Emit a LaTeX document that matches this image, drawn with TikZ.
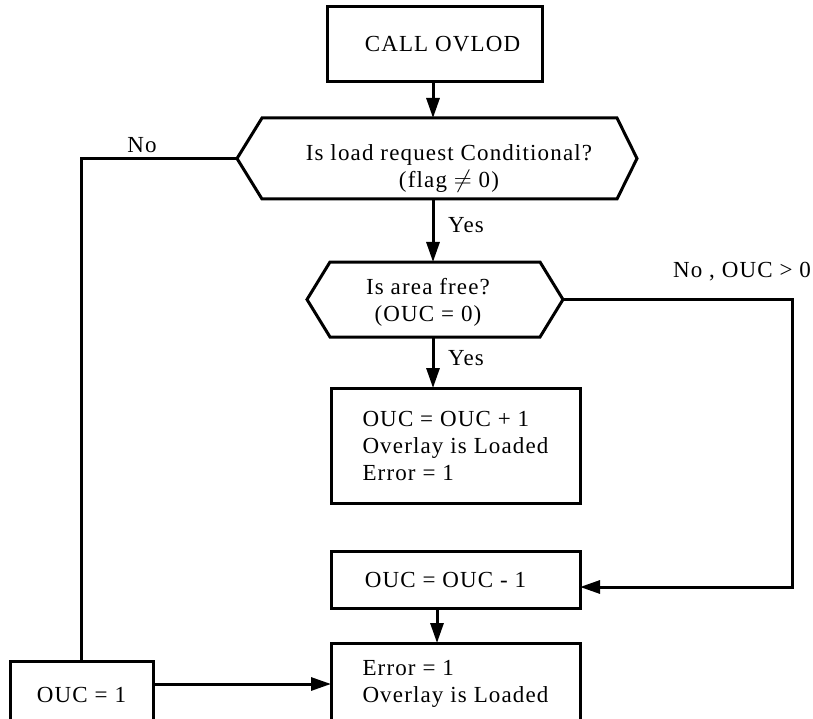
\documentclass[tikz,border=0pt]{standalone}
\usepackage{fontspec}
\setmainfont[LetterSpace=5]{Liberation Serif}
\usetikzlibrary{arrows.meta}
\begin{document}
\begin{tikzpicture}[x=1pt,y=-1pt,
  font=\fontsize{23}{27}\selectfont,
  line/.style={line width=3pt},
  flow/.style={line, -{Triangle[length=20pt,width=13pt]}},
  box/.style={draw, line width=3pt, inner sep=0pt, outer sep=0pt, align=left},
  body/.style={draw=none, inner sep=0pt, outer sep=0pt},
  txt/.style={inner sep=0pt, align=center}
]
\useasboundingbox (0,0) rectangle (813,719);

% process boxes
\node[box, minimum width=215pt, minimum height=75pt] (call) at (434.5,44.5) {\hspace*{16pt}CALL OVLOD};
\node[box, minimum width=249pt, minimum height=115pt] (inc) at (455.5,445.5)
  {OUC = OUC + 1\\Overlay is Loaded\\Error = 1};
\node[box, minimum width=249pt, minimum height=57pt] (dec) at (455.5,580) {OUC = OUC - 1\hspace*{20pt}};
\node[box, minimum width=249pt, minimum height=82pt] (err) at (455.5,684)
  {Error = 1\\Overlay is Loaded};
\node[box, minimum width=143pt, minimum height=68pt] (one) at (81.5,695) {OUC = 1};

% decision hexagons: body nodes plus outline
\node[body, minimum width=355pt, minimum height=81pt] (q1) at (439.5,158.5) {};
\draw[line, line join=miter] (q1.north west) -- (q1.north east) -- ([xshift=20pt]q1.east)
  -- (q1.south east) -- (q1.south west) -- ([xshift=-25pt]q1.west) -- cycle;
\coordinate (q1w) at ([xshift=-25pt]q1.west);
\node[txt] (q1t) at (449,168.5) {Is load request Conditional?\\(flag $\not=$ 0)};

\node[body, minimum width=210pt, minimum height=75pt] (q2) at (435,299.5) {};
\draw[line, line join=miter] (q2.north west) -- (q2.north east) -- ([xshift=23pt]q2.east)
  -- (q2.south east) -- (q2.south west) -- ([xshift=-23pt]q2.west) -- cycle;
\coordinate (q2e) at ([xshift=23pt]q2.east);
\node[txt] (q2t) at (428,302) {Is area free?\\(OUC = 0)};

% connectors
\draw[flow] (call.south -| 433,0) -- (433,0 |- q1.north);
\draw[flow] (q1.south -| 433,0) -- (433,0 |- q2.north);
\draw[flow] (q2.south -| 433,0) -- (433,0 |- inc.north);
\draw[flow] (dec.south -| 437,0) -- (437,0 |- err.north);
\coordinate (rturn) at (792,587);
\draw[flow] (q2e) -| (rturn) -- (rturn -| dec.east);
\draw[line] (q1w) -| (one.north);
\draw[flow] (one.east |- err.west) -- (err.west);

% branch labels
\node[txt] (lno) at (142,145) {No};
\node[txt] (lyes1) at (466,225) {Yes};
\node[txt] (lyes2) at (466,358) {Yes};
\node[txt] (lno2) at (742,272) {No , OUC > 0};
\end{tikzpicture}
\end{document}
